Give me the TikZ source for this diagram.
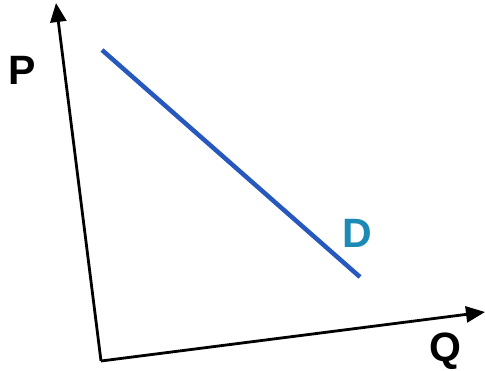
\documentclass[tikz,border=0pt]{standalone}
\usepackage{fontspec}
\setmainfont{Liberation Sans}
\usetikzlibrary{arrows.meta}

\definecolor{dline}{RGB}{38,88,190}
\definecolor{dtext}{RGB}{28,138,180}

\begin{document}
\begin{tikzpicture}[
  x=1pt, y=-1pt,
  axis/.style={draw=black, line width=2.8pt, line join=miter},
  tip/.style={-{Triangle[length=19pt, width=16pt]}},
  demand/.style={draw=dline, line width=4.5pt},
  lbl/.style={font=\fontsize{41}{43}\selectfont\bfseries, inner sep=0pt}
]
\useasboundingbox (0,0) rectangle (485,371);

% Axes
\coordinate (ptop) at (56,3);
\coordinate (origin) at (101,361);
\coordinate (qend) at (485,312);
\draw[axis, tip] (origin) -- (ptop);
\draw[axis, tip] (origin) -- (qend);

% Demand curve
\coordinate (dstart) at (102,50);
\coordinate (dend) at (360,277);
\draw[demand] (dstart) -- (dend);

% Labels
\node[lbl] (plabel) at (22,70) {P};
\node[lbl] (qlabel) at (445,351) {Q};
\node[lbl, text=dtext] (dlabel) at (357,233) {D};

\end{tikzpicture}
\end{document}
